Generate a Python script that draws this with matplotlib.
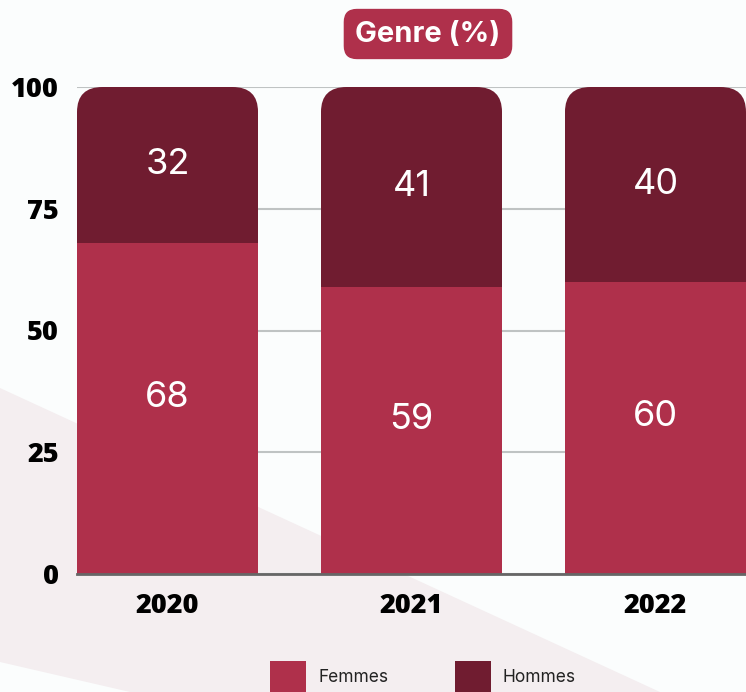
import matplotlib
matplotlib.use("Agg")
import matplotlib.pyplot as plt
from matplotlib.patches import FancyBboxPatch, Polygon, Rectangle
import numpy as np

years = ["2020", "2021", "2022"]
femmes = [68, 59, 60]
hommes = [32, 41, 40]
yticks = [0, 25, 50, 75, 100]

c_femmes = "#AF304B"
c_hommes = "#701C30"
bg = "#FBFDFD"
pink_bg = "#F4EEF0"

W, H = 746, 692
fig = plt.figure(figsize=(W / 100, H / 100), dpi=100, facecolor=bg)

# diagonal light band behind the chart (figure pixel coords -> fraction)
def px(x, y):
    return (x / W, 1 - y / H)

band = Polygon([px(0, 388), px(660, 692), px(130, 692), px(0, 662)],
               closed=True, transform=fig.transFigure, facecolor=pink_bg,
               edgecolor="none", zorder=-10)
fig.patches.append(band)

ax = fig.add_axes([77 / W, (H - 574) / H, (W - 77) / W, (574 - 87) / H])
ax.set_facecolor("none")

x = np.arange(len(years))
width = 0.742
ax.set_xlim(-0.371, 2.371)
ax.set_ylim(0, 100)

ax.set_yticks(yticks)
ax.yaxis.grid(True, color="#BFC3C3", linewidth=1.5)
ax.set_axisbelow(True)
for s in ["top", "right", "left"]:
    ax.spines[s].set_visible(False)
ax.spines["bottom"].set_color("#666666")
ax.spines["bottom"].set_linewidth(2)
ax.spines["bottom"].set_zorder(5)
ax.tick_params(length=0)
ax.tick_params(axis="y", pad=13)
ax.tick_params(axis="x", pad=14)
ax.set_xticks(x)
ax.set_xticklabels(years)
for lab in ax.get_xticklabels() + ax.get_yticklabels():
    lab.set_fontfamily("Open Sans")
    lab.set_fontweight("heavy")
    lab.set_fontsize(19.5)
    lab.set_color("#000000")

bars_h = ax.bar(x, hommes, width, bottom=femmes, color=c_hommes, zorder=2)
bars_f = ax.bar(x, femmes, width, color=c_femmes, zorder=3)

# round the top corners: clip the stacked top bar with a rounded box
r_x = 0.105
aspect = (25 / 4.87) / r_x
for b, f, h in zip(bars_h, femmes, hommes):
    clip = FancyBboxPatch((b.get_x(), 0), b.get_width(), f + h,
                          boxstyle=f"round,pad=0,rounding_size={r_x}",
                          mutation_aspect=aspect, transform=ax.transData,
                          facecolor="none", edgecolor="none")
    b.set_clip_path(clip)

for i in range(len(years)):
    ax.text(x[i], femmes[i] / 2 + 2.3, str(femmes[i]), ha="center",
            va="center", color="white", fontsize=26, family="Inter",
            fontweight="normal", zorder=6)
    ax.text(x[i], femmes[i] + hommes[i] / 2, str(hommes[i]),
            ha="center", va="center", color="white", fontsize=26,
            family="Inter", fontweight="normal", zorder=6)

# title in a rounded box
fig.text(428 / W, 1 - 34 / H, "Genre (%)", ha="center", va="center",
         fontsize=21, fontweight="bold", family="Inter", color="white",
         bbox=dict(boxstyle="round,pad=0.4,rounding_size=0.45",
                   facecolor=c_femmes, edgecolor="none"))

# legend at the bottom
for (x0, lab, col) in [(270, "Femmes", c_femmes), (455, "Hommes", c_hommes)]:
    fig.patches.append(Rectangle(px(x0, 692), 36 / W, 31 / H,
                                 transform=fig.transFigure, facecolor=col,
                                 edgecolor="none", zorder=3))
    fig.text((x0 + 48) / W, 1 - 677 / H, lab, ha="left", va="center",
             fontsize=12.5, family="Inter", color="#222222")

fig.savefig("out.png", dpi=100, facecolor=bg)
